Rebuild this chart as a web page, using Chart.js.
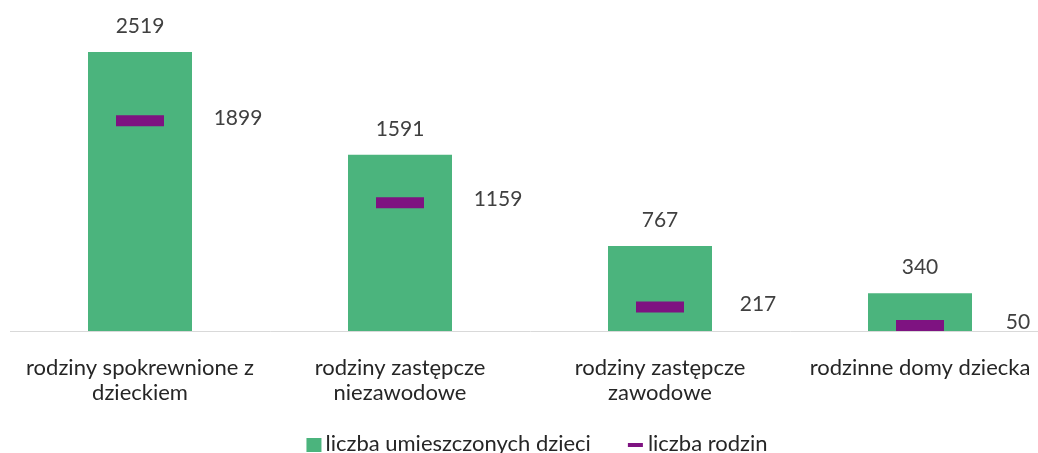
<!DOCTYPE html>
<html>
<head>
<meta charset="utf-8">
<script src="https://cdn.jsdelivr.net/npm/chart.js@4/dist/chart.umd.min.js"></script>
<style>
  html, body { margin: 0; padding: 0; background: #fff; overflow: hidden; }
  #wrap { width: 1060px; height: 453px; }
</style>
</head>
<body>
<div id="wrap"><canvas id="c" width="1060" height="453"></canvas></div>
<script>
const categories = [
  ["rodziny spokrewnione z", "dzieckiem"],
  ["rodziny zastępcze", "niezawodowe"],
  ["rodziny zastępcze", "zawodowe"],
  "rodzinne domy dziecka"
];
const children = [2519, 1591, 767, 340];
const families = [1899, 1159, 217, 50];
const seriesNames = ["liczba umieszczonych dzieci", "liczba rodzin"];

const FONT = "Lato, 'Open Sans', sans-serif";
const GREEN = '#4BB47D';
const PURPLE = '#7E1381';
const TEXT = '#404040';

// Value labels: above each bar, and to the right of each family marker
const valueLabels = {
  id: 'valueLabels',
  afterDatasetsDraw(chart) {
    const ctx = chart.ctx;
    ctx.save();
    ctx.font = "21px " + FONT;
    ctx.fillStyle = TEXT;
    ctx.textAlign = "center";
    ctx.textBaseline = "middle";
    chart.getDatasetMeta(0).data.forEach((el, i) => {
      ctx.fillText(String(children[i]), el.x, el.y - 26);
    });
    chart.getDatasetMeta(1).data.forEach((el, i) => {
      ctx.fillText(String(families[i]), el.x + 98, el.y - 3);
    });
    ctx.restore();
  }
};

// Legend row along the bottom edge
const bottomLegend = {
  id: 'bottomLegend',
  afterDraw(chart) {
    const ctx = chart.ctx;
    ctx.save();
    ctx.font = "22px " + FONT;
    ctx.fillStyle = '#262626';
    ctx.textBaseline = "alphabetic";
    const w0 = ctx.measureText(seriesNames[0]).width;
    const w1 = ctx.measureText(seriesNames[1]).width;
    const total = 15 + 4 + w0 + 37 + 15 + 5 + w1;
    let x = 537 - total / 2;
    const baseY = 451;
    ctx.fillStyle = GREEN;
    ctx.fillRect(x, 438, 15, 14);
    x += 19;
    ctx.fillStyle = '#262626';
    ctx.fillText(seriesNames[0], x, baseY);
    x += w0 + 37;
    ctx.fillStyle = PURPLE;
    ctx.fillRect(x, 443, 15, 4);
    x += 20;
    ctx.fillStyle = '#262626';
    ctx.fillText(seriesNames[1], x, baseY);
    ctx.restore();
  }
};

new Chart(document.getElementById('c'), {
  data: {
    labels: categories,
    datasets: [
      {
        type: 'bar',
        label: seriesNames[0],
        data: children,
        backgroundColor: GREEN,
        borderWidth: 0,
        barPercentage: 1.0,
        categoryPercentage: 0.4
      },
      {
        type: 'line',
        label: seriesNames[1],
        data: families,
        showLine: false,
        borderColor: PURPLE,
        backgroundColor: PURPLE,
        pointStyle: 'line',
        pointRadius: 24,
        pointHoverRadius: 24,
        pointBorderWidth: 11,
        order: -1
      }
    ]
  },
  options: {
    responsive: false,
    animation: false,
    layout: { autoPadding: false, padding: { left: 10, right: 10, top: 21, bottom: 24 } },
    scales: {
      x: {
        grid: { display: false, drawTicks: false },
        border: { display: true, color: '#D9D9D9', width: 1 },
        afterFit(scale) { scale.paddingLeft = 0; scale.paddingRight = 0; },
        ticks: {
          color: '#262626',
          font: { family: FONT, size: 22, lineHeight: '25px' },
          padding: 24,
          maxRotation: 0,
          autoSkip: false
        }
      },
      y: {
        display: false,
        min: 0,
        max: 2800
      }
    },
    plugins: {
      legend: { display: false },
      tooltip: { enabled: false }
    }
  },
  plugins: [valueLabels, bottomLegend]
});
</script>
</body>
</html>
